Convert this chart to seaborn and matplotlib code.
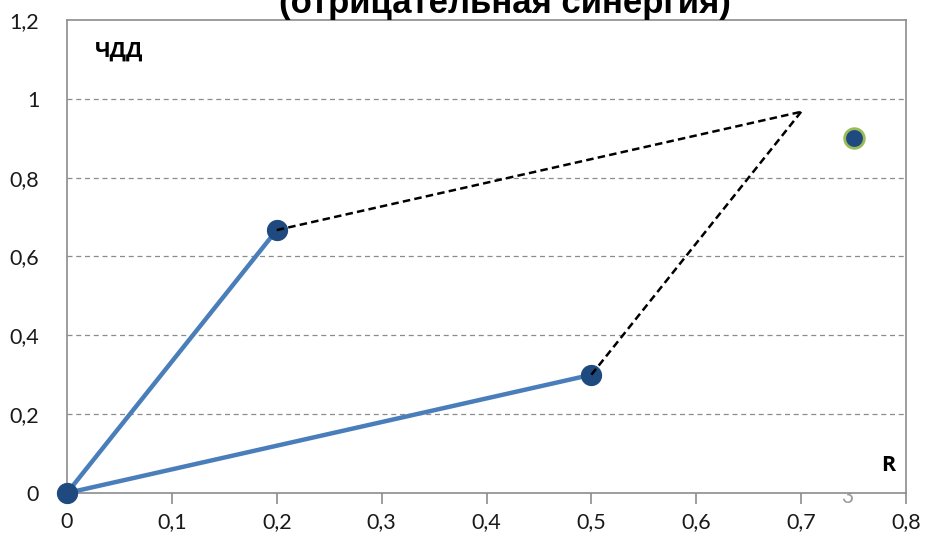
import matplotlib
matplotlib.use("Agg")
import matplotlib.pyplot as plt
import seaborn as sns
import pandas as pd

# Projects: R (return) and ЧДД (NPV)
project_r = [0.2, 0.5]
project_npv = [0.667, 0.3]
origin_r, origin_npv = 0.0, 0.0
# Combined project (vertex of the parallelogram)
combined_r = 0.7
combined_npv = 0.967
# Actual joint result (negative synergy)
actual_r = [0.75]
actual_npv = [0.9]

x_ticks = [0, 0.1, 0.2, 0.3, 0.4, 0.5, 0.6, 0.7, 0.8]
y_ticks = [0, 0.2, 0.4, 0.6, 0.8, 1.0, 1.2]
x_labels = ["0", "0,1", "0,2", "0,3", "0,4", "0,5", "0,6", "0,7", "0,8"]
y_labels = ["0", "0,2", "0,4", "0,6", "0,8", "1", "1,2"]

sns.set_theme(style="white")
plt.rcParams["font.family"] = ["Lato", "Open Sans", "DejaVu Sans"]

fig = plt.figure(figsize=(9.28, 5.39), dpi=100)
ax = fig.add_axes([0.0722, 0.0853, 0.9041, 0.8777])

blue = "#4a7ebb"
navy = "#1f4a7f"
grid_c = "#8c8c8c"

# Vectors from the origin to each project
vec_rows = []
for i, (r, v) in enumerate(zip(project_r, project_npv)):
    vec_rows.append({"seg": i, "R": origin_r, "NPV": origin_npv})
    vec_rows.append({"seg": i, "R": r, "NPV": v})
vec_df = pd.DataFrame(vec_rows)
sns.lineplot(data=vec_df, x="R", y="NPV", units="seg", estimator=None,
             color=blue, linewidth=3.2, sort=False, ax=ax, zorder=2)

# Dashed sides of the parallelogram
dash_rows = []
for i, (r, v) in enumerate(zip(project_r, project_npv)):
    dash_rows.append({"seg": i, "R": r, "NPV": v})
    dash_rows.append({"seg": i, "R": combined_r, "NPV": combined_npv})
dash_df = pd.DataFrame(dash_rows)
sns.lineplot(data=dash_df, x="R", y="NPV", units="seg", estimator=None,
             color="black", linewidth=1.8, linestyle=(0, (3.0, 1.7)),
             sort=False, ax=ax, zorder=4)

# Project points
pts = pd.DataFrame({"R": [origin_r] + project_r,
                    "NPV": [origin_npv] + project_npv})
sns.scatterplot(data=pts, x="R", y="NPV", s=210, color=navy,
                edgecolor=navy, linewidth=0.8, ax=ax, zorder=3)

# Actual joint result
act = pd.DataFrame({"R": actual_r, "NPV": actual_npv})
sns.scatterplot(data=act, x="R", y="NPV", s=200, color=navy,
                edgecolor="#9bbb59", linewidth=2.0, ax=ax, zorder=3)

for coll in ax.collections:
    coll.set_clip_on(False)
for ln in ax.lines:
    ln.set_clip_on(False)

ax.set_xlim(0, 0.8)
ax.set_ylim(0, 1.2)
ax.set_xticks(x_ticks)
ax.set_xticklabels(x_labels)
ax.set_yticks(y_ticks)
ax.set_yticklabels(y_labels)
ax.set_xlabel("")
ax.set_ylabel("")

for yv in y_ticks[1:-1]:
    ax.axhline(yv, color=grid_c, linewidth=0.9, linestyle=(0, (4, 3)), zorder=1)

for sp in ax.spines.values():
    sp.set_visible(True)
    sp.set_color("#8c8c8c")
    sp.set_linewidth(1.2)
    sp.set_zorder(1.5)

ax.tick_params(axis="x", which="major", bottom=True, length=8, width=1.2,
               color="#8c8c8c", direction="out", pad=6,
               labelsize=15.5, labelcolor="#1a1a1a")
ax.tick_params(axis="y", which="major", left=False, length=0, pad=20,
               labelsize=15.5, labelcolor="#1a1a1a")

ax.text(0.027, 1.12, "ЧДД", fontsize=15.5, fontweight="bold",
        family=["Open Sans", "DejaVu Sans"], ha="left", va="center",
        color="black")
ax.text(0.783, 0.07, "R", fontsize=15.5, fontweight="bold",
        family=["Open Sans", "DejaVu Sans"], ha="center", va="center",
        color="black")

fig.text(0.544, 1 - 13 / 539, "(отрицательная синергия)", fontsize=25,
         fontweight="bold",
         family=["Liberation Sans Narrow", "Liberation Sans", "DejaVu Sans"],
         ha="center", va="baseline", color="black")

# Page number partly tucked behind the plot area
fig.text(847 / 928, 1 - 503 / 539, "3", fontsize=15, color="#9a9a9a",
         ha="center", va="baseline", zorder=-1)

fig.savefig("out.png", dpi=100)
